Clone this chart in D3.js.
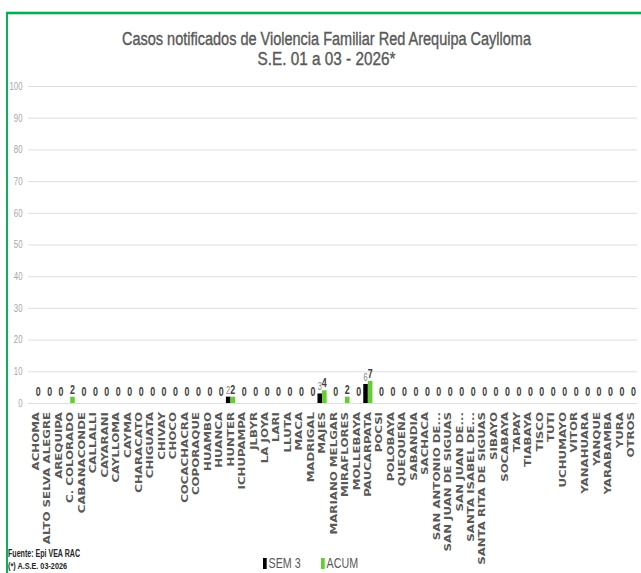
<!DOCTYPE html>
<html>
<head>
<meta charset="utf-8">
<script src="https://cdn.jsdelivr.net/npm/d3@7"></script>
<style>
  body { margin: 0; background: #fff; }
  svg { display: block; }
</style>
</head>
<body>
<div id="chart-area"></div>
<script>
// data
const categorias = ["ACHOMA", "ALTO SELVA ALEGRE", "AREQUIPA", "C. COLORADO", "CABANACONDE",
  "CALLALLI", "CAYARANI", "CAYLLOMA", "CAYMA", "CHARACATO", "CHIGUATA", "CHIVAY", "CHOCO",
  "COCACHACRA", "COPORAQUE", "HUAMBO", "HUANCA", "HUNTER", "ICHUPAMPA", "JLBYR", "LA JOYA",
  "LARI", "LLUTA", "MACA", "MADRIGAL", "MAJES", "MARIANO MELGAR", "MIRAFLORES", "MOLLEBAYA",
  "PAUCARPATA", "POCSI", "POLOBAYA", "QUEQUEÑA", "SABANDIA", "SACHACA", "SAN ANTONIO DE...",
  "SAN JUAN DE SIGUAS", "SAN JUAN DE...", "SANTA ISABEL DE...", "SANTA RITA DE SIGUAS",
  "SIBAYO", "SOCABAYA", "TAPAY", "TIABAYA", "TISCO", "TUTI", "UCHUMAYO", "VITOR",
  "YANAHUARA", "YANQUE", "YARABAMBA", "YURA", "OTROS"];
const sem3 = [0, 0, 0, 0, 0, 0, 0, 0, 0, 0, 0, 0, 0, 0, 0, 0, 0, 2, 0, 0, 0, 0, 0, 0, 0, 3, 0, 0, 0,
  6, 0, 0, 0, 0, 0, 0, 0, 0, 0, 0, 0, 0, 0, 0, 0, 0, 0, 0, 0, 0, 0, 0, 0];
const acum = [0, 0, 0, 2, 0, 0, 0, 0, 0, 0, 0, 0, 0, 0, 0, 0, 0, 2, 0, 0, 0, 0, 0, 0, 0, 4, 0, 2, 0,
  7, 0, 0, 0, 0, 0, 0, 0, 0, 0, 0, 0, 0, 0, 0, 0, 0, 0, 0, 0, 0, 0, 0, 0];
const series = ["SEM 3", "ACUM"];
const yTicks = [0, 10, 20, 30, 40, 50, 60, 70, 80, 90, 100];

const colores = { "SEM 3": "#000000", "ACUM": "#66cc33" };

// the picture is squeezed sideways, so draw wide and squeeze with the viewBox
const k = 0.74;
const sx = function(v) { return v / k; };
const W = 641, H = 573;

const svg = d3.select("#chart-area")
  .append("svg")
    .attr("width", W)
    .attr("height", H)
    .attr("viewBox", "0 0 " + sx(W) + " " + H)
    .attr("preserveAspectRatio", "none");

// green frame
svg.append("rect")
  .attr("x", sx(7))
  .attr("y", 13)
  .attr("width", sx(W + 20))
  .attr("height", H + 20)
  .attr("fill", "none")
  .attr("stroke", "#00b050")
  .attr("stroke-width", 2.6);

// title
const titulo = [
  { t: "Casos notificados  de Violencia Familiar Red Arequipa Caylloma", y: 45, w: 409 },
  { t: "S.E.  01 a 03 - 2026*", y: 65, w: 138 }
];
titulo.forEach(function(d) {
  svg.append("text")
    .attr("x", sx(326.5))
    .attr("y", d.y)
    .attr("text-anchor", "middle")
    .attr("font-family", "Liberation Sans, Arial, sans-serif")
    .attr("font-size", "19px")
    .attr("stroke", "#595959")
    .attr("stroke-width", 0.4)
    .attr("fill", "#595959")
    .attr("textLength", sx(d.w))
    .attr("lengthAdjust", "spacingAndGlyphs")
    .text(d.t);
});

// scales
const x0 = d3.scaleBand()
  .domain(categorias)
  .range([sx(29), sx(638)])
  .padding(0.2);

const x1 = d3.scaleBand()
  .domain(series)
  .range([0, x0.bandwidth()]);

const y = d3.scaleLinear()
  .domain([0, 100])
  .range([403, 86]);

// gridlines + y labels
const yAxisCall = d3.axisLeft(y)
  .tickValues(yTicks)
  .tickSize(0)
  .tickPadding(sx(5.5));

const grid = svg.append("g")
  .attr("class", "y axis")
  .attr("transform", "translate(" + sx(28) + ",0)")
  .call(yAxisCall);
grid.select(".domain").remove();
grid.selectAll(".tick line")
  .attr("x1", 0)
  .attr("x2", sx(637) - sx(28))
  .attr("stroke", "#d9d9d9")
  .attr("stroke-width", 1);
grid.selectAll(".tick text")
  .attr("font-family", "Liberation Sans, Arial, sans-serif")
  .attr("font-size", "10.5px")
  .attr("fill", "#a6a6a6");

// bars
const filas = categorias.map(function(c, i) {
  return { cat: c, valores: [
    { serie: "SEM 3", v: sem3[i] },
    { serie: "ACUM", v: acum[i] }
  ] };
});

const grupos = svg.append("g").selectAll("g")
  .data(filas)
  .enter().append("g")
    .attr("transform", function(d) { return "translate(" + x0(d.cat) + ",0)"; });

grupos.selectAll("rect")
  .data(function(d) { return d.valores; })
  .enter().append("rect")
    .attr("x", function(d) { return x1(d.serie); })
    .attr("width", x1.bandwidth())
    .attr("y", function(d) { return y(d.v); })
    .attr("height", function(d) { return y(0) - y(d.v); })
    .attr("fill", function(d) { return colores[d.serie]; });

// value labels: ACUM always, SEM 3 only if not zero
grupos.selectAll("text.lbl")
  .data(function(d) {
    return d.valores.filter(function(v) { return v.serie == "ACUM" || v.v > 0; });
  })
  .enter().append("text")
    .attr("class", "lbl")
    .attr("x", function(d) { return x1(d.serie) + x1.bandwidth() / 2; })
    .attr("y", function(d) { return d.v > 0 ? y(d.v) - 3 : 396; })
    .attr("text-anchor", "middle")
    .attr("font-family", "Liberation Sans, Arial, sans-serif")
    .attr("font-weight", function(d) { return d.serie == "ACUM" ? "bold" : "normal"; })
    .attr("font-size", function(d) { return d.serie == "ACUM" ? "12px" : "10px"; })
    .attr("fill", function(d) { return d.serie == "ACUM" ? "#404040" : "#7f7f7f"; })
    .text(function(d) { return d.v; });

// category labels
svg.append("g").selectAll("text")
  .data(categorias)
  .enter().append("text")
    .attr("transform", function(d) {
      return "translate(" + (x0(d) + x0.bandwidth() / 2) + ",412) rotate(-90)";
    })
    .attr("dy", "0.36em")
    .attr("text-anchor", "end")
    .attr("font-family", "DejaVu Sans, Verdana, sans-serif")
    .attr("font-weight", "bold")
    .attr("font-size", "11.8px")
    .attr("fill", "#595959")
    .text(function(d) { return d; });

// legend (kept just inside the bottom edge)
const legend = svg.append("g");
const leyenda = [
  { s: "SEM 3", x: 263 },
  { s: "ACUM", x: 321 }
];
leyenda.forEach(function(d) {
  legend.append("rect")
    .attr("x", sx(d.x))
    .attr("y", 558)
    .attr("width", sx(3.7))
    .attr("height", 11)
    .attr("fill", colores[d.s]);
  legend.append("text")
    .attr("x", sx(d.x + 5.5))
    .attr("y", 568)
    .attr("font-family", "Liberation Sans, Arial, sans-serif")
    .attr("font-size", "14.5px")
    .attr("fill", "#595959")
    .text(d.s);
});

// footer notes
svg.append("text")
  .attr("x", sx(8))
  .attr("y", 557)
  .attr("font-family", "Liberation Sans, Arial, sans-serif")
  .attr("font-weight", "bold")
  .attr("font-size", "11px")
  .attr("fill", "#262626")
  .attr("textLength", sx(72))
  .attr("lengthAdjust", "spacingAndGlyphs")
  .text("Fuente: Epi VEA RAC");
svg.append("text")
  .attr("x", sx(8))
  .attr("y", 569)
  .attr("font-family", "Liberation Sans, Arial, sans-serif")
  .attr("font-weight", "bold")
  .attr("font-size", "9.5px")
  .attr("fill", "#262626")
  .attr("textLength", sx(59))
  .attr("lengthAdjust", "spacingAndGlyphs")
  .text("(*) A.S.E. 03-2026");
</script>
</body>
</html>
